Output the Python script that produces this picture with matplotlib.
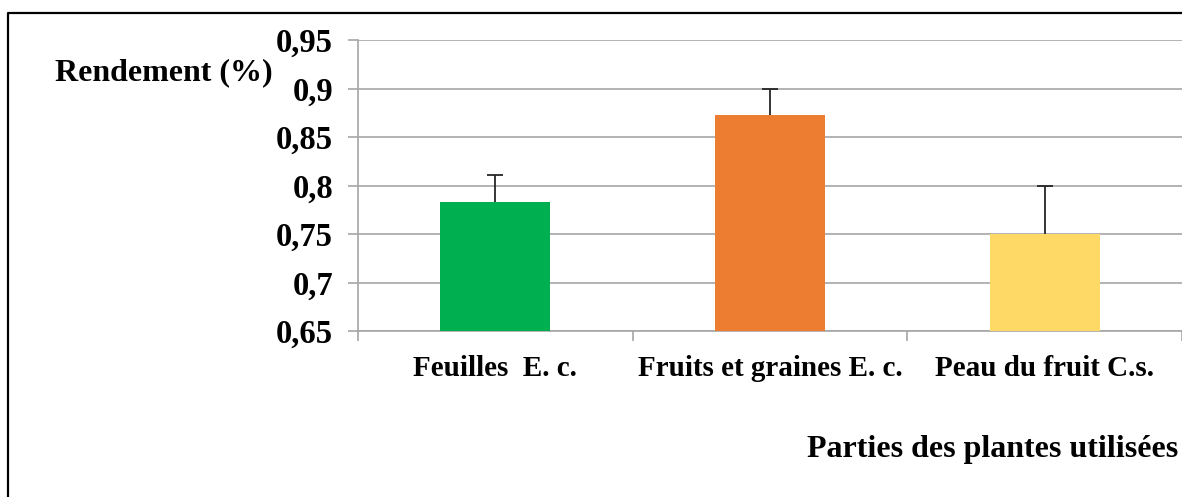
import matplotlib
matplotlib.use("Agg")
import matplotlib.pyplot as plt
from matplotlib.lines import Line2D
import numpy as np

categories = ["Feuilles  E. c.", "Fruits et graines E. c.", "Peau du fruit C.s."]
values = [0.783, 0.873, 0.750]
errors = [0.028, 0.026, 0.050]
colors = ["#00B050", "#ED7D31", "#FFD966"]
yticks = [0.65, 0.70, 0.75, 0.80, 0.85, 0.90, 0.95]
ytick_labels = ["0,65", "0,7", "0,75", "0,8", "0,85", "0,9", "0,95"]
ylabel = "Rendement (%)"
xlabel = "Parties des plantes utilisées"

plt.rcParams['font.family'] = ['Liberation Serif', 'DejaVu Serif']
plt.rcParams['font.weight'] = 'bold'

W, H = 1182, 497
fig = plt.figure(figsize=(W / 100, H / 100), dpi=100)
ax = fig.add_axes([358 / W, (H - 331) / H, (1182 - 358) / W, (331 - 40) / H])

x = np.arange(len(categories))
ax.bar(x, values, width=0.40, color=colors, zorder=3)
eb = ax.errorbar(x, values, yerr=[np.zeros(len(errors)), errors], fmt='none',
                 ecolor='#262626', elinewidth=1.3, capsize=6, capthick=1.3, zorder=4)
# hide the cap that sits on the bar top (plus-direction error bars only)
for cap in eb[1]:
    if np.allclose(cap.get_ydata(), values):
        cap.set_visible(False)

ax.set_xlim(-0.5, len(categories) - 0.5)
ax.set_ylim(0.65, 0.95)
ax.set_yticks(yticks)
ax.set_yticklabels(ytick_labels, fontsize=23.5, fontweight='bold')
ax.yaxis.grid(True, color='#A6A6A6', linewidth=1.2, zorder=0)
ax.set_axisbelow(True)

ax.set_xticks(x)
ax.set_xticklabels(categories, fontsize=21, fontweight='bold')
ax.tick_params(axis='x', which='major', length=0, pad=17)
ax.set_xticks(np.arange(-0.5, len(categories), 1.0), minor=True)
ax.tick_params(axis='x', which='minor', length=7, color='#A6A6A6', width=1.2, direction='out')
ax.tick_params(axis='y', length=7, color='#A6A6A6', width=1.2, pad=11)

for s in ['top', 'right']:
    ax.spines[s].set_visible(False)
for s in ['left', 'bottom']:
    ax.spines[s].set_color('#A6A6A6')
    ax.spines[s].set_linewidth(1.2)

fig.text(55 / W, 1 - 73 / H, ylabel, fontsize=23, fontweight='bold',
         ha='left', va='center')
fig.text(1178 / W, 1 - 450 / H, xlabel, fontsize=23, fontweight='bold',
         ha='right', va='center')

# outer frame (top and left edges visible)
fig.add_artist(Line2D([8 / W, 8 / W, 1.01], [-0.01, 1 - 12.5 / H, 1 - 12.5 / H],
                      transform=fig.transFigure, color='black', linewidth=1.6))

fig.savefig("out.png", dpi=100)
